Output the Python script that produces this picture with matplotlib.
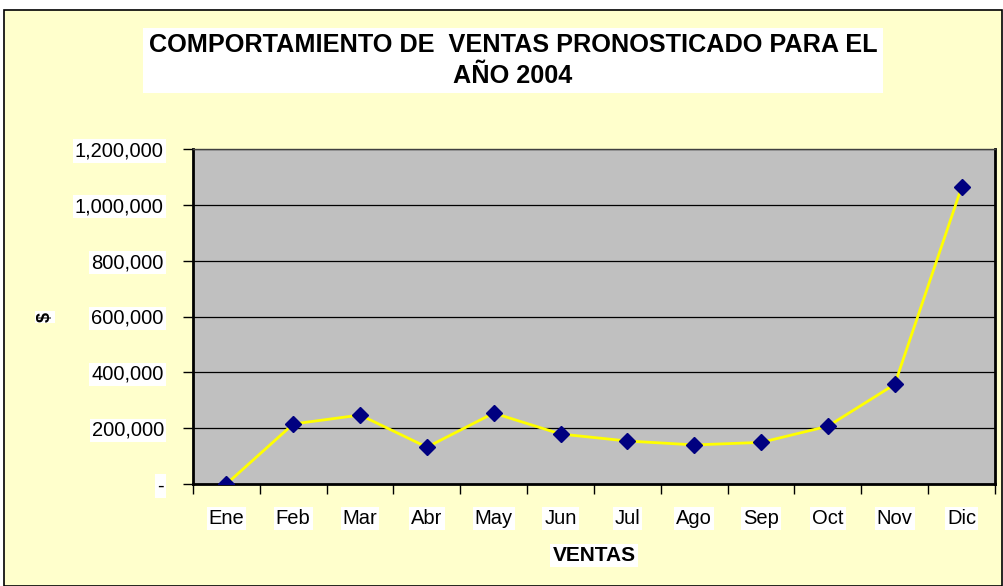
import matplotlib.pyplot as plt
import numpy as np

meses = ["Ene", "Feb", "Mar", "Abr", "May", "Jun", "Jul", "Ago", "Sep", "Oct", "Nov", "Dic"]
ventas = [0, 215000, 247000, 132000, 254000, 179000, 154000, 140000, 149000, 207000, 357000, 1063000]
yticks = [0, 200000, 400000, 600000, 800000, 1000000, 1200000]
ytick_labels = ["-", "200,000", "400,000", "600,000", "800,000", "1,000,000", "1,200,000"]

plt.rcParams["font.family"] = ["Liberation Sans", "DejaVu Sans"]

fig = plt.figure(figsize=(10.04, 5.86), dpi=100)
fig.patch.set_facecolor("white")

# marco amarillo del grafico
marco = plt.Rectangle((4 / 1004, 0.0), 998 / 1004, 576 / 586, transform=fig.transFigure,
                      facecolor="#FFFFCC", edgecolor="black", linewidth=1.2, zorder=-10)
fig.patches.append(marco)

ax = fig.add_axes([193 / 1004, 102 / 586, 802 / 1004, 335 / 586])
ax.set_facecolor("#C0C0C0")

x = np.arange(len(meses))
ax.plot(x, ventas, color="#FFFF00", linewidth=2, marker="D", markersize=8,
        markerfacecolor="#000080", markeredgecolor="#000080", zorder=3)

ax.set_xlim(-0.5, len(meses) - 0.5)
ax.set_ylim(0, 1200000)

ax.set_yticks(yticks)
ax.set_yticklabels(ytick_labels)
ax.yaxis.grid(True, color="black", linewidth=0.9)
ax.set_axisbelow(True)

ax.set_xticks(x)
ax.set_xticklabels(meses)
ax.set_xticks(np.arange(-0.5, len(meses)), minor=True)
ax.tick_params(axis="x", which="major", length=0, pad=18, labelsize=14.5)
ax.tick_params(axis="x", which="minor", length=7, width=1, direction="out")
ax.tick_params(axis="y", length=7, width=1, direction="out", pad=14, labelsize=14.5)

for lbl in ax.get_xticklabels() + ax.get_yticklabels():
    lbl.set_bbox(dict(facecolor="white", edgecolor="none", pad=1.5))

for lado in ["left", "bottom", "right"]:
    ax.spines[lado].set_linewidth(2)
    ax.spines[lado].set_color("black")
ax.spines["top"].set_linewidth(1)
ax.spines["top"].set_color("#404040")

ax.set_xlabel("VENTAS", fontsize=15, fontweight="bold", labelpad=13,
              bbox=dict(facecolor="white", edgecolor="none", pad=1.5))
fig.text(45 / 1004, 1 - 317 / 586, "$", rotation=90, fontsize=13, fontweight="bold",
         ha="center", va="center", bbox=dict(facecolor="white", edgecolor="none", pad=1))

fig.text(513 / 1004, 1 - 60.5 / 586,
         "COMPORTAMIENTO DE  VENTAS PRONOSTICADO PARA EL\nAÑO 2004",
         ha="center", va="center", fontsize=18.2, fontweight="bold", linespacing=1.35,
         bbox=dict(facecolor="white", edgecolor="none", pad=4))

fig.savefig("out.png", dpi=100, facecolor=fig.get_facecolor())
